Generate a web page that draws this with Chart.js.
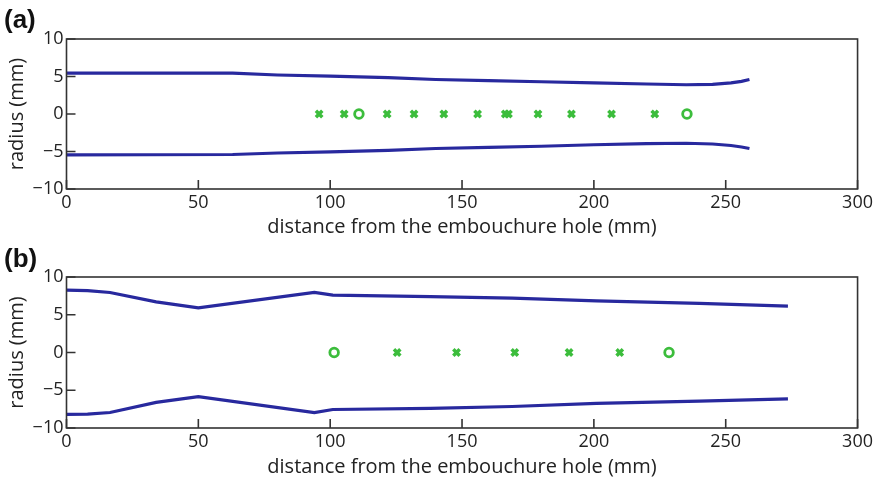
<!DOCTYPE html>
<html lang="en">
<head>
    <meta charset="UTF-8">
    <title>Bore radius profiles</title>
    <script src="https://cdn.jsdelivr.net/npm/chart.js"></script>
    <style>
        body {
            margin: 0;
            background: #fff;
            font-family: "Open Sans", sans-serif;
        }
        .panel {
            position: absolute;
            left: 0;
            width: 876px;
            height: 240px;
        }
        .tag {
            position: absolute;
            left: 4px;
            font-family: "Liberation Sans", Arial, sans-serif;
            font-weight: bold;
            font-size: 26px;
            color: #111;
        }
    </style>
</head>
<body>
    <div class="panel" style="top:0"><canvas id="chartA" width="876" height="240"></canvas></div>
    <div class="panel" style="top:240px"><canvas id="chartB" width="876" height="240"></canvas></div>
    <div class="tag" style="top:4px">(a)</div>
    <div class="tag" style="top:243px">(b)</div>

    <script>
        // axis ticks
        const xTicks = [0, 50, 100, 150, 200, 250, 300];
        const yTicks = [-10, -5, 0, 5, 10];

        // panel (a)
        const aDist  = [0, 63, 80, 100, 122, 140, 160, 180, 200, 220, 235, 245, 252, 256, 259];
        const aUpper = [5.45, 5.45, 5.2, 5.05, 4.85, 4.6, 4.45, 4.3, 4.15, 4.0, 3.9, 3.95, 4.15, 4.35, 4.6];
        const aLower = [-5.45, -5.4, -5.2, -5.05, -4.85, -4.6, -4.45, -4.3, -4.1, -3.95, -3.9, -4.0, -4.2, -4.4, -4.6];
        const aHoles = [95.8, 105.3, 121.6, 131.8, 143.1, 155.9, 166.4, 167.6, 178.8, 191.5, 206.7, 223.1];
        const aEnds  = [110.9, 235.3];

        // panel (b)
        const bDist  = [0, 8, 16.5, 34, 50, 94, 101, 138, 169, 201, 240, 273.6];
        const bUpper = [8.25, 8.2, 7.95, 6.7, 5.9, 7.95, 7.6, 7.4, 7.2, 6.85, 6.5, 6.15];
        const bLower = [-8.2, -8.15, -7.95, -6.6, -5.85, -7.95, -7.55, -7.4, -7.15, -6.75, -6.45, -6.15];
        const bHoles = [125.4, 147.9, 170.0, 190.6, 209.8];
        const bEnds  = [101.5, 228.5];

        const blue = '#28299e';
        const green = '#3cbd3c';
        const ink = '#222';

        // box round the axes, with matlab style inward ticks
        const frameTicks = {
            id: 'frameTicks',
            afterDraw(chart) {
                const ctx = chart.ctx;
                const a = chart.chartArea;
                const xs = chart.scales.x, ys = chart.scales.y;
                ctx.save();
                ctx.strokeStyle = '#333';
                ctx.lineWidth = 1.6;
                ctx.strokeRect(a.left, a.top, a.right - a.left, a.bottom - a.top);
                ctx.beginPath();
                xs.ticks.forEach(t => {
                    const px = xs.getPixelForValue(t.value);
                    ctx.moveTo(px, a.bottom);
                    ctx.lineTo(px, a.bottom - 9);
                });
                ys.ticks.forEach(t => {
                    const py = ys.getPixelForValue(t.value);
                    ctx.moveTo(a.left, py);
                    ctx.lineTo(a.left + 9, py);
                });
                ctx.stroke();
                ctx.restore();
            }
        };

        function toPts(xs, ys) {
            return xs.map((x, i) => ({ x: x, y: ys[i] }));
        }

        function makeChart(id, dist, upper, lower, holes, ends, padTop, xHeight) {
            const ctx = document.getElementById(id).getContext('2d');
            const font = { family: 'Open Sans', size: 18 };
            const titleFont = { family: 'Open Sans', size: 20 };
            return new Chart(ctx, {
                type: 'scatter',
                data: {
                    datasets: [
                        {
                            data: toPts(dist, upper),
                            showLine: true,
                            borderColor: blue,
                            borderWidth: 3.2,
                            pointRadius: 0
                        },
                        {
                            data: toPts(dist, lower),
                            showLine: true,
                            borderColor: blue,
                            borderWidth: 3.2,
                            pointRadius: 0
                        },
                        {
                            data: holes.map(x => ({ x: x, y: 0 })),
                            pointStyle: 'crossRot',
                            pointRadius: 4.5,
                            borderColor: green,
                            borderWidth: 3.5
                        },
                        {
                            data: ends.map(x => ({ x: x, y: 0 })),
                            pointStyle: 'circle',
                            pointRadius: 4.3,
                            borderColor: green,
                            backgroundColor: 'rgba(0,0,0,0)',
                            borderWidth: 2.8
                        }
                    ]
                },
                options: {
                    responsive: false,
                    animation: false,
                    layout: { padding: { top: padTop, right: 18, left: 0, bottom: 0 } },
                    plugins: {
                        legend: { display: false },
                        tooltip: { enabled: false }
                    },
                    scales: {
                        x: {
                            type: 'linear',
                            min: 0,
                            max: 300,
                            afterBuildTicks: s => { s.ticks = xTicks.map(v => ({ value: v })); },
                            ticks: { font: font, color: ink, padding: 3, maxRotation: 0 },
                            grid: { display: false, drawTicks: false },
                            border: { display: false },
                            title: {
                                display: true,
                                text: 'distance from the embouchure hole (mm)',
                                font: titleFont,
                                color: ink,
                                padding: { top: 0, bottom: 1 }
                            },
                            afterFit: s => { s.height = xHeight; }
                        },
                        y: {
                            min: -10,
                            max: 10,
                            afterBuildTicks: s => { s.ticks = yTicks.map(v => ({ value: v })); },
                            ticks: {
                                font: font,
                                color: ink,
                                padding: 3,
                                callback: v => String(v).replace('-', '\u2212')
                            },
                            grid: { display: false, drawTicks: false },
                            border: { display: false },
                            title: {
                                display: true,
                                text: 'radius (mm)',
                                font: titleFont,
                                color: ink,
                                padding: { top: 5, bottom: 0 }
                            },
                            afterFit: s => { s.width = 66.5; }
                        }
                    }
                },
                plugins: [frameTicks]
            });
        }

        makeChart('chartA', aDist, aUpper, aLower, aHoles, aEnds, 39, 51);
        makeChart('chartB', bDist, bUpper, bLower, bHoles, bEnds, 37, 52);
    </script>
</body>
</html>
